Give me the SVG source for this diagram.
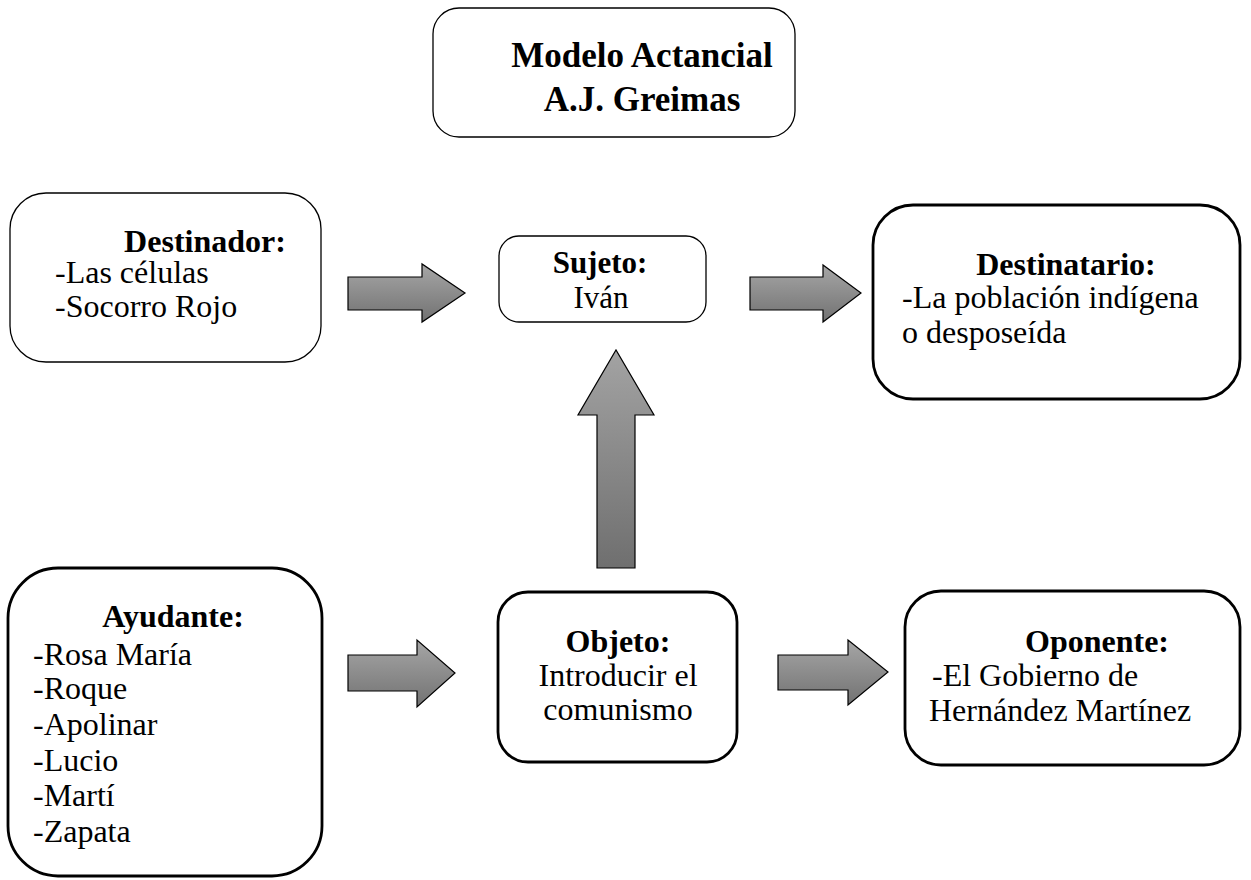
<svg xmlns="http://www.w3.org/2000/svg" width="1251" height="880" viewBox="0 0 1251 880">
<style>
  .box { fill: #ffffff; stroke: #000000; }
  .thin { stroke-width: 1.3; }
  .thick { stroke-width: 2.8; }
  text { font-family: 'Liberation Serif', 'Times New Roman', Tinos, Times, serif; font-size: 32px; fill: #000000; }
  .b { font-weight: bold; text-anchor: middle; }
  .c { text-anchor: middle; }
  .title { font-size: 35px; }
  .small { font-size: 31px; }
  .arrow { stroke: #000000; stroke-width: 1.2; stroke-linejoin: miter; }
</style>
<defs>
  <linearGradient id="gh" x1="0" y1="0" x2="0" y2="1">
    <stop offset="0" stop-color="#a6a6a6"/>
    <stop offset="1" stop-color="#727272"/>
  </linearGradient>
  <linearGradient id="gv" x1="0" y1="0" x2="0" y2="1">
    <stop offset="0" stop-color="#a3a3a3"/>
    <stop offset="1" stop-color="#6f6f6f"/>
  </linearGradient>
</defs>
<rect width="1251" height="880" fill="#ffffff"/>

<g id="connectors">
  <path class="arrow" fill="url(#gh)" d="M348,277 H422 V264 L465,293 L422,322 V310 H348 Z"/>
  <path class="arrow" fill="url(#gh)" d="M750,277 H823 V265 L861,293 L823,322 V310 H750 Z"/>
  <path class="arrow" fill="url(#gv)" d="M597,568 V415 H578 L616,350 L654,415 H635 V568 Z"/>
  <path class="arrow" fill="url(#gh)" d="M348,655 H417 V640 L455,673 L417,707 V691 H348 Z"/>
  <path class="arrow" fill="url(#gh)" d="M778,655 H848 V640 L888,672 L848,705 V690 H778 Z"/>
</g>

<g id="title">
  <rect class="box thin" x="433" y="8" width="362" height="129" rx="26"/>
  <text class="b title" x="642" y="67">Modelo Actancial</text>
  <text class="b title" x="642" y="111">A.J. Greimas</text>
</g>

<g id="destinador">
  <rect class="box thin" x="10" y="193" width="311" height="169" rx="36"/>
  <text class="b" x="205" y="252">Destinador:</text>
  <text x="55" y="283">-Las células</text>
  <text x="55" y="317">-Socorro Rojo</text>
</g>

<g id="sujeto">
  <rect class="box thin" x="499" y="236" width="207" height="86" rx="20"/>
  <text class="b small" x="600" y="273">Sujeto:</text>
  <text class="c small" x="601" y="308">Iván</text>
</g>

<g id="destinatario">
  <rect class="box thick" x="873" y="205" width="367" height="194" rx="40"/>
  <text class="b" x="1066" y="275">Destinatario:</text>
  <text x="902" y="308">-La población indígena</text>
  <text x="902" y="343">o desposeída</text>
</g>

<g id="ayudante">
  <rect class="box thick" x="8" y="568" width="314" height="308" rx="50"/>
  <text class="b" x="173" y="627">Ayudante:</text>
  <text x="33" y="665">-Rosa María</text>
  <text x="33" y="699">-Roque</text>
  <text x="33" y="735">-Apolinar</text>
  <text x="33" y="771">-Lucio</text>
  <text x="33" y="806">-Martí</text>
  <text x="33" y="842">-Zapata</text>
</g>

<g id="objeto">
  <rect class="box thick" x="498" y="592" width="239" height="170" rx="30"/>
  <text class="b" x="618" y="652">Objeto:</text>
  <text class="c" x="618" y="686">Introducir el</text>
  <text class="c" x="618" y="720">comunismo</text>
</g>

<g id="oponente">
  <rect class="box thick" x="905" y="591" width="335" height="174" rx="36"/>
  <text class="b" x="1097" y="652">Oponente:</text>
  <text x="932" y="686">-El Gobierno de</text>
  <text x="929" y="721">Hernández Martínez</text>
</g>
</svg>
